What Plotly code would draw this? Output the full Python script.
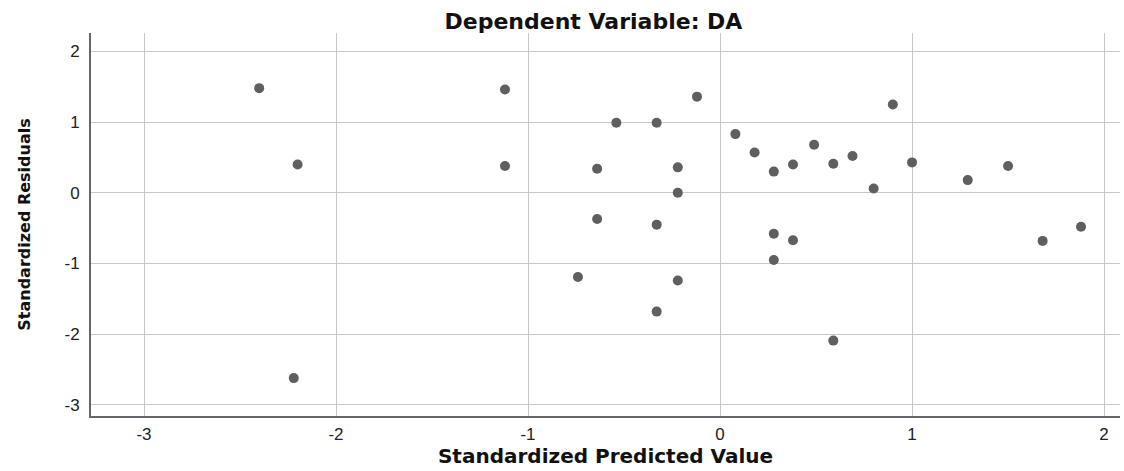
import plotly.graph_objects as go

# Standardized predicted values (x) and standardized residuals (y)
pred = [-2.40, -2.20, -2.22, -1.12, -1.12, -0.12, -0.54, -0.33, 0.08, 0.18,
        0.28, 0.38, -0.64, -0.22, -0.22, 0.49, 0.59, 0.69, 0.80, 0.90,
        1.00, 1.29, 1.50, -0.64, -0.33, 0.28, 0.38, 0.28, -0.74, -0.22,
        -0.33, 0.59, 1.68, 1.88]
resid = [1.48, 0.40, -2.62, 1.46, 0.38, 1.36, 0.99, 0.99, 0.83, 0.57,
         0.30, 0.40, 0.34, 0.36, 0.00, 0.68, 0.41, 0.52, 0.06, 1.25,
         0.43, 0.18, 0.38, -0.37, -0.45, -0.58, -0.67, -0.95, -1.19, -1.24,
         -1.68, -2.09, -0.68, -0.48]

x_ticks = [-3, -2, -1, 0, 1, 2]
y_ticks = [-3, -2, -1, 0, 1, 2]

fig = go.Figure(go.Scatter(
    x=pred, y=resid, mode="markers",
    marker=dict(size=10, color="#5f5f5f", line=dict(width=0)),
    showlegend=False,
))

bold_family = "DejaVu Sans, Liberation Sans, Arial, sans-serif"
fig.update_layout(
    width=1124, height=471,
    margin=dict(l=91, r=4, t=33, b=55),
    paper_bgcolor="white", plot_bgcolor="white",
    font=dict(family="Liberation Sans, Arial, sans-serif", color="#222222", size=15),
    title=dict(text="<b>Dependent Variable: DA</b>", x=0.528, xanchor="center",
               y=0.955, yanchor="middle",
               font=dict(family=bold_family, size=22, color="#111111")),
)
fig.update_xaxes(
    range=[-3.276, 2.083], tickvals=x_ticks, ticktext=[str(v) for v in x_ticks],
    showgrid=True, gridcolor="#c8c8c8", gridwidth=1.3,
    zeroline=False, showline=True, linecolor="#666666", linewidth=2,
    ticks="", ticklabelstandoff=2, tickfont=dict(size=17),
    title=dict(text="<b>Standardized Predicted Value</b>",
               font=dict(family=bold_family, size=20, color="#111111"), standoff=6),
)
fig.update_yaxes(
    range=[-3.156, 2.26], tickvals=y_ticks, ticktext=[str(v) for v in y_ticks],
    showgrid=True, gridcolor="#c8c8c8", gridwidth=1.3,
    zeroline=False, showline=True, linecolor="#666666", linewidth=2,
    ticks="", ticklabelstandoff=6, tickfont=dict(size=17),
    title=dict(text="<b>Standardized Residuals</b>",
               font=dict(family=bold_family, size=16, color="#111111"), standoff=30),
)

fig.write_html("out.html")
